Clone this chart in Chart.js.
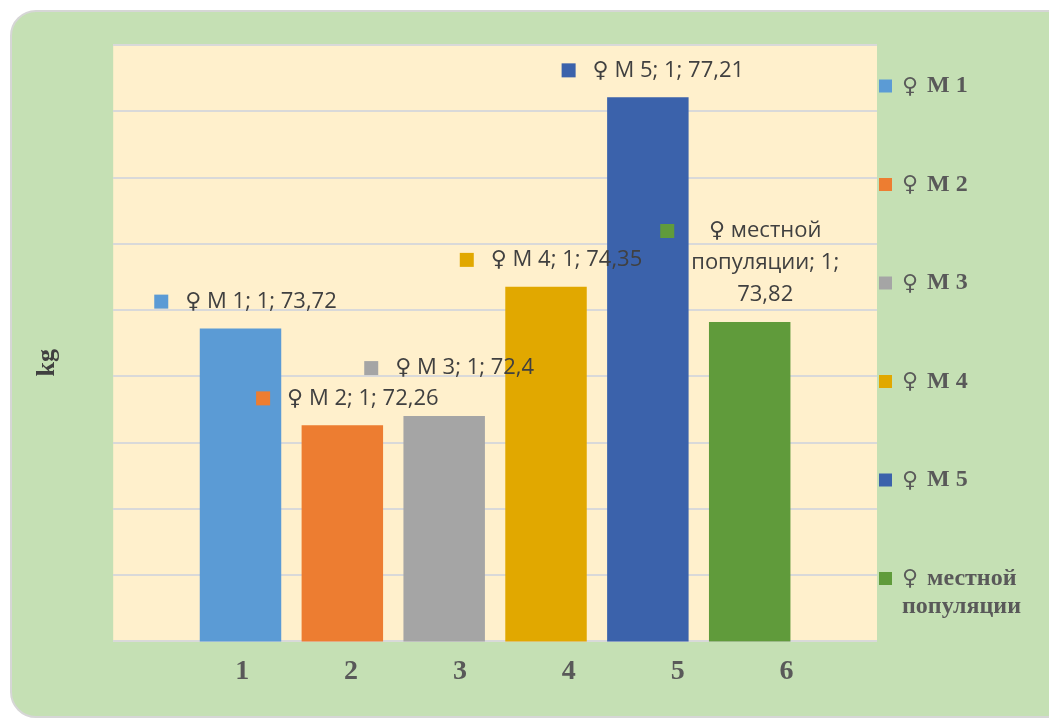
<!DOCTYPE html>
<html>
<head>
<meta charset="utf-8">
<script src="https://cdn.jsdelivr.net/npm/chart.js@4/dist/chart.umd.min.js"></script>
<style>
  html, body { margin: 0; padding: 0; background: #ffffff; overflow: hidden; }
  #card {
    position: absolute; left: 10px; top: 10px; width: 1080px; height: 704px;
    background: #C5E0B4; border: 2px solid #D6D6D6; border-radius: 26px;
  }
  #wrap { position: absolute; left: 0; top: 0; width: 1049px; height: 722px; }
</style>
</head>
<body>
<div id="card"></div>
<div id="wrap"><canvas id="chart" width="1049" height="722"></canvas></div>
<script>
// Average weight (kg) of ewes by group
const categories = ['1'];
const seriesNames = ['♀ M 1', '♀ M 2', '♀ M 3', '♀ M 4', '♀ M 5', '♀ местной популяции'];
const seriesValues = [73.72, 72.26, 72.4, 74.35, 77.21, 73.82];
const seriesColors = ['#5B9BD5', '#ED7D31', '#A5A5A5', '#E1A800', '#3B62AB', '#609B3B'];
const xTickLabels = ['1', '2', '3', '4', '5', '6'];
const yMin = 69;
const yMax = 78;

// word wrap helper for canvas text
function wrapText(ctx, text, maxWidth) {
  const words = text.split(' ');
  const lines = [];
  let line = '';
  for (const w of words) {
    const test = line ? line + ' ' + w : w;
    if (line && ctx.measureText(test).width > maxWidth) {
      lines.push(line);
      line = w;
    } else {
      line = test;
    }
  }
  if (line) lines.push(line);
  return lines;
}

// plot background fill
const plotBackground = {
  id: 'plotBackground',
  beforeDraw(chart, args, opts) {
    const { ctx, chartArea: a } = chart;
    ctx.save();
    ctx.fillStyle = opts.color;
    ctx.fillRect(a.left, a.top, a.right - a.left, a.bottom - a.top);
    ctx.restore();
  }
};

// value labels: colour key + "series; category; value"
const valueLabels = {
  id: 'valueLabels',
  afterDatasetsDraw(chart, args, opts) {
    const ctx = chart.ctx;
    ctx.save();
    ctx.font = opts.font;
    ctx.textAlign = 'center';
    ctx.textBaseline = 'middle';
    chart.data.datasets.forEach((ds, i) => {
      const meta = chart.getDatasetMeta(i);
      meta.data.forEach((bar, j) => {
        const v = ds.data[j];
        if (v == null) return;
        const text = ds.label + '; ' + chart.data.labels[j] + '; ' + String(v).replace('.', ',');
        const lines = wrapText(ctx, text, opts.maxWidth);
        const tw = Math.max(...lines.map(l => ctx.measureText(l).width));
        const blockW = opts.box + opts.gap + tw;
        const cx = bar.x + opts.shiftX[i];
        const left = cx - blockW / 2;
        const lastY = bar.y - opts.lift + opts.shiftY[i];
        const firstY = lastY - (lines.length - 1) * opts.lineHeight;
        ctx.fillStyle = ds.backgroundColor;
        ctx.fillRect(left, firstY - opts.box / 2, opts.box, opts.box);
        ctx.fillStyle = opts.color;
        const tx = left + opts.box + opts.gap + tw / 2;
        lines.forEach((l, k) => ctx.fillText(l, tx, firstY + k * opts.lineHeight));
      });
    });
    ctx.restore();
  }
};

// legend column to the right of the plot; the leading symbol uses its own font
const sideLegend = {
  id: 'sideLegend',
  afterDraw(chart, args, opts) {
    const { ctx, chartArea: a } = chart;
    ctx.save();
    ctx.textAlign = 'left';
    ctx.textBaseline = 'middle';
    chart.data.datasets.forEach((ds, i) => {
      const y = a.top + opts.top + i * opts.spacing;
      const x = a.right + opts.offset;
      ctx.fillStyle = ds.backgroundColor;
      ctx.fillRect(x, y - opts.box / 2, opts.box, opts.box);
      ctx.fillStyle = opts.color;
      const x0 = x + opts.box + opts.gap;
      const [sym, ...rest] = ds.label.split(' ');
      ctx.font = opts.symbolFont;
      ctx.fillText(sym, x0, y + 1);
      const sw = ctx.measureText(sym).width;
      ctx.font = opts.font;
      const lines = wrapText(ctx, rest.join(' '), opts.maxWidth);
      lines.forEach((l, k) => ctx.fillText(l, k === 0 ? x0 + sw + opts.symbolGap : x0, y + k * opts.lineHeight));
    });
    ctx.restore();
  }
};

const serifFamily = "'Liberation Serif', 'Times New Roman', serif";

new Chart(document.getElementById('chart'), {
  type: 'bar',
  data: {
    labels: categories,
    datasets: seriesNames.map((name, i) => ({
      label: name,
      data: [seriesValues[i]],
      backgroundColor: seriesColors[i],
      borderWidth: 0,
      xAxisID: 'x',
      yAxisID: 'y'
    }))
  },
  options: {
    responsive: false,
    devicePixelRatio: 1,
    animation: false,
    layout: { padding: { top: 45, right: 172, bottom: 19, left: 0 } },
    datasets: { bar: { categoryPercentage: 0.8, barPercentage: 0.8 } },
    scales: {
      x: { type: 'category', display: false },
      xTicks: {
        type: 'linear',
        position: 'bottom',
        offset: false,
        min: -0.185,
        max: 6.831,
        grid: { display: false, drawTicks: false, offset: false },
        border: { display: false },
        ticks: {
          stepSize: 1,
          includeBounds: false,
          autoSkip: false,
          maxRotation: 0,
          padding: 14,
          color: '#595959',
          font: { family: serifFamily, size: 28, weight: 'bold' },
          callback: v => xTickLabels[v - 1] ?? ''
        }
      },
      y: {
        min: yMin,
        max: yMax,
        ticks: { display: false, stepSize: 1 },
        grid: { color: '#D9D9D9', lineWidth: 2, drawTicks: false },
        border: { display: false },
        title: {
          display: true,
          text: 'kg      ',
          color: '#404040',
          font: { family: serifFamily, size: 26, weight: 'bold' },
          padding: { top: 32, bottom: 50 }
        }
      }
    },
    plugins: {
      legend: { display: false },
      tooltip: { enabled: false },
      plotBackground: { color: '#FFF0CC' },
      valueLabels: {
        font: "22px 'Open Sans', 'DejaVu Sans', sans-serif",
        color: '#404040',
        box: 14,
        gap: 17,
        lift: 27,
        lineHeight: 32,
        maxWidth: 185,
        shiftX: [5, 5, 5, 5, 5, 0],
        shiftY: [0, 0, -21, 0, 0, 0]
      },
      sideLegend: {
        font: "bold 24px 'Liberation Serif', 'Times New Roman', serif",
        symbolFont: "22px 'DejaVu Sans', sans-serif",
        color: '#595959',
        top: 41,
        spacing: 98.5,
        offset: 2,
        box: 13,
        gap: 10,
        symbolGap: 9,
        lineHeight: 28,
        maxWidth: 120
      }
    }
  },
  plugins: [plotBackground, valueLabels, sideLegend]
});
</script>
</body>
</html>
